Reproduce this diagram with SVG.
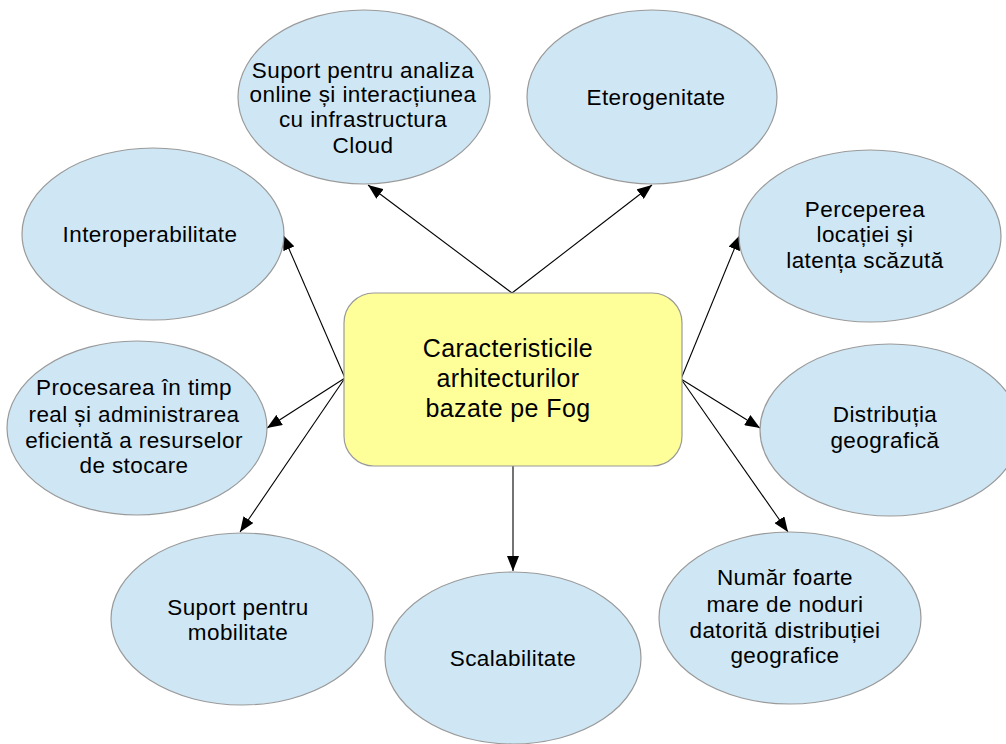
<svg xmlns="http://www.w3.org/2000/svg" width="1006" height="744" viewBox="0 0 1006 744">
<style>
.n{fill:#cfe7f5;stroke:#9a9a9a;stroke-width:1.2}
.c{fill:#ffff99;stroke:#9a9a9a;stroke-width:1.2}
.t{font-family:"Liberation Sans",Arial,sans-serif;font-size:22.5px;letter-spacing:0.4px;fill:#000;text-anchor:middle}
.tc{font-family:"Liberation Sans",Arial,sans-serif;font-size:25px;letter-spacing:0.4px;fill:#000;text-anchor:middle}
.e{stroke:#000;stroke-width:1.1;fill:none;marker-end:url(#ah)}
</style>
<defs>
<marker id="ah" markerWidth="16" markerHeight="12" refX="15" refY="6" orient="auto" markerUnits="userSpaceOnUse">
<path d="M0,0 L15,6 L0,12 Z" fill="#000"/>
</marker>
</defs>
<rect width="1006" height="744" fill="#fff"/>
<g id="connectors">
<line class="e" x1="512" y1="293" x2="368" y2="185"/>
<line class="e" x1="512" y1="293" x2="652" y2="185"/>
<line class="e" x1="345" y1="378" x2="283" y2="235"/>
<line class="e" x1="345" y1="378" x2="267" y2="428"/>
<line class="e" x1="345" y1="378" x2="240" y2="532"/>
<line class="e" x1="681" y1="379" x2="740" y2="235"/>
<line class="e" x1="681" y1="379" x2="760" y2="428"/>
<line class="e" x1="681" y1="379" x2="788" y2="532"/>
<line class="e" x1="513" y1="466" x2="513" y2="571"/>
</g>
<g id="n-center">
<rect class="c" x="344" y="293" width="338" height="173" rx="30" ry="30"/>
<text class="tc" x="508" y="357">Caracteristicile</text>
<text class="tc" x="508" y="387">arhitecturilor</text>
<text class="tc" x="508" y="417">bazate pe Fog</text>
</g>
<g id="n-suport-analiza">
<ellipse class="n" cx="364" cy="97" rx="126" ry="87"/>
<text class="t" x="363" y="78">Suport pentru analiza</text>
<text class="t" x="363" y="102">online și interacțiunea</text>
<text class="t" x="363" y="127">cu infrastructura</text>
<text class="t" x="363" y="153">Cloud</text>
</g>
<g id="n-eterogenitate">
<ellipse class="n" cx="652" cy="97" rx="125" ry="87"/>
<text class="t" x="656" y="105">Eterogenitate</text>
</g>
<g id="n-interoperabilitate">
<ellipse class="n" cx="153" cy="234" rx="131" ry="86"/>
<text class="t" x="150" y="242">Interoperabilitate</text>
</g>
<g id="n-perceperea">
<ellipse class="n" cx="870" cy="236" rx="131" ry="86"/>
<text class="t" x="865" y="217">Perceperea</text>
<text class="t" x="865" y="242">locației și</text>
<text class="t" x="865" y="268">latența scăzută</text>
</g>
<g id="n-procesarea">
<ellipse class="n" cx="137" cy="428" rx="130" ry="87"/>
<text class="t" x="134" y="395">Procesarea în timp</text>
<text class="t" x="134" y="422">real și administrarea</text>
<text class="t" x="134" y="448">eficientă a resurselor</text>
<text class="t" x="134" y="473">de stocare</text>
</g>
<g id="n-distributia">
<ellipse class="n" cx="890" cy="430" rx="130" ry="86"/>
<text class="t" x="885" y="422">Distribuția</text>
<text class="t" x="885" y="448">geografică</text>
</g>
<g id="n-mobilitate">
<ellipse class="n" cx="242" cy="619" rx="131" ry="86"/>
<text class="t" x="238" y="615">Suport pentru</text>
<text class="t" x="238" y="640">mobilitate</text>
</g>
<g id="n-scalabilitate">
<ellipse class="n" cx="513" cy="658" rx="128" ry="86"/>
<text class="t" x="513" y="666">Scalabilitate</text>
</g>
<g id="n-numar">
<ellipse class="n" cx="790" cy="618" rx="131" ry="86"/>
<text class="t" x="785" y="585">Număr foarte</text>
<text class="t" x="785" y="612">mare de noduri</text>
<text class="t" x="785" y="638">datorită distribuției</text>
<text class="t" x="785" y="663">geografice</text>
</g>
</svg>
